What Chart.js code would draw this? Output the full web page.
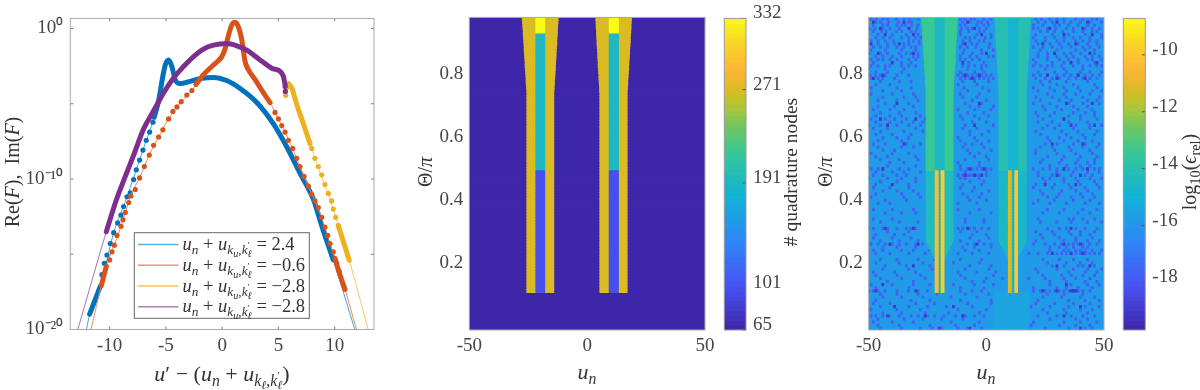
<!DOCTYPE html>
<html><head><meta charset="utf-8">
<script src="https://cdn.jsdelivr.net/npm/chart.js@4"></script>
<style>html,body{margin:0;padding:0;background:#fff;width:1200px;height:390px;overflow:hidden}canvas{position:absolute;left:0;top:0;filter:blur(0.4px)}</style>
</head><body>
<canvas id="c1" width="1200" height="390"></canvas>
<canvas id="c2" width="1200" height="390"></canvas>
<canvas id="c3" width="1200" height="390"></canvas>
<canvas id="c4" width="1200" height="390"></canvas>
<canvas id="c5" width="1200" height="390"></canvas>
<script>
// ---------- left panel: curve values (x, log10 y) ----------
const blueX=[-12.07,-11.78,-10.83,-9.64,-8.46,-7.87,-6.98,-6.04,-5.65,-5.3,-5.06,-4.76,-4.47,-4.17,-3.73,-2.84,-1.95,-0.77,0.41,1.6,3.08,4.56,5.74,6.92,8.11,8.85,9.88,11.8];
const blueE=[-20.02,-18.98,-17.12,-13.57,-11.2,-9.9,-7.95,-5.9,-4.81,-3.29,-2.42,-2.09,-2.53,-3.4,-3.66,-3.51,-3.33,-3.25,-3.46,-3.99,-4.92,-6.34,-7.86,-9.61,-11.35,-13.1,-15.38,-20.02];
const orangeX=[-11.66,-10.74,-10.3,-9.59,-8.99,-8.61,-8.02,-7.34,-6.48,-5.65,-4.76,-3.64,-2.69,-2.34,-1.66,-0.77,-0.03,0.27,0.56,0.86,1.15,1.45,1.75,2.04,2.34,2.93,3.67,4.26,5,5.59,6.33,6.92,7.66,8.25,9.14,9.59,10.03,10.47,10.92,11.95];
const orangeE=[-20.02,-17.08,-15.8,-14.4,-13.14,-12.22,-10.92,-9.93,-8.41,-7.21,-6.01,-4.86,-4.12,-3.73,-3.07,-2.42,-1.87,-1.33,-0.46,0.24,0.41,0.09,-0.78,-2.2,-2.75,-3.4,-4.27,-4.92,-6.01,-6.88,-8.1,-9.17,-10.48,-11.46,-13.2,-14.29,-15.27,-16.36,-17.34,-20.02];
const goldX=[5.89,6.18,6.63,7.22,7.81,8.4,8.99,9.59,10.33,10.92,11.3,12.99];
const goldE=[-3.66,-3.94,-5.03,-6.34,-7.65,-8.95,-10.15,-11.35,-13.1,-14.5,-15.4,-20.02];
const purpleX=[-12.84,-10.3,-9.44,-8.61,-7.87,-6.98,-6.09,-5.2,-4.32,-3.43,-2.54,-1.66,-0.77,0.41,1.3,2.19,3.37,4.41,5.15,5.44,5.59];
const purpleE=[-20.02,-13.5,-11.46,-9.83,-8.41,-6.67,-5.47,-4.27,-3.29,-2.53,-1.87,-1.37,-1.11,-1,-1.15,-1.44,-2.09,-2.64,-2.85,-3.18,-3.73];
// stretches where the markers overlap into a solid band: [from index, to index]
const blueSolid=[[1,2],[7,26]];
const orangeSolid=[[1,2],[13,27],[36,38]];
const goldSolid=[[0,4],[8,10]];
const purpleSolid=[[1,20]];
// individually visible markers
const blueBeadX=[-10.68,-10.47,-10.24,-9.94,-9.64,-9.29,-9,-8.76,-8.46,-8.17,-7.87,-7.63,-7.34,-7.04,-6.75,-6.45,-6.15];
const blueBeadE=[-16.36,-15.6,-15.05,-14.29,-13.57,-12.92,-12.4,-11.83,-11.18,-10.92,-10.04,-9.39,-8.74,-8.08,-7.43,-6.88,-6.23];
const orangeBeadX=[-10,-9.79,-9.59,-9.35,-8.99,-8.82,-8.61,-8.31,-8.11,-7.72,-7.34,-6.92,-6.48,-6.09,-5.65,-5.27,-4.76,-4.38,-4.02,-3.64,-3.14,-2.69,4.7,5,5.3,5.59,5.89,6.27,6.63,6.92,7.28,7.66,7.96,8.25,8.55,8.85,9.14,9.38,9.59,9.88,10.18,10.41];
const orangeBeadE=[-15.38,-14.84,-14.4,-13.75,-13.14,-12.7,-12.22,-11.57,-11.13,-10.7,-9.93,-9.17,-8.41,-7.76,-7.21,-6.73,-6.01,-5.51,-5.21,-4.86,-4.42,-4.12,-5.58,-6.01,-6.45,-6.88,-7.43,-7.97,-8.63,-9.17,-9.83,-10.48,-11.02,-11.46,-11.9,-12.55,-13.2,-13.75,-14.29,-14.84,-15.6,-16.14];
const goldBeadX=[5.65,5.75,7.96,8.25,8.55,8.85,9.14,9.44,9.73,9.88,10.09,10.33];
const goldBeadE=[-4.44,-3.9,-7.97,-8.63,-9.17,-9.72,-10.37,-10.96,-11.46,-12,-12.55,-13.1];
const purpleBeadX=[5.6,5.62];
const purpleBeadE=[-3.85,-4.18];
const legendValues=['2.4','\u22120.6','\u22122.8','\u22122.8'];
const lineTicksX=[-10,-5,0,5,10];
const lineTicksY=[1,1e-5,1e-10,1e-15,1e-20];
const lineTickLabels={'1':'10\u2070','1e-10':'10\u207B\u00B9\u2070','1e-20':'10\u207B\u00B2\u2070'};

// ---------- heat maps ----------
const thetaTicks=[0.2,0.4,0.6,0.8];
const unTicks=[-50,0,50];
const nodeTicks=[65,101,191,271,332];
const errTicks=[-18,-16,-14,-12,-10];
const nodeLevels={base:65,inner:101,mid:191,outer:271,top:332};
// column edges in u_n (two groups)
const edgesA={outer:[-25.67,-14.07],inner:[-21.85,-17.9]};
const edgesB={outer:[5.3,17.05],inner:[9.26,13.37]};
// row limits of the blocks
const rowBottom=12, rowInnerTop=50, rowMidTop=94, rowTaper=76;
// outer edges in the widening rows 76..99
const widenAL=[-25.7,-25.8,-25.9,-26.0,-26.0,-26.1,-26.2,-26.3,-26.4,-26.4,-26.5,-26.6,-26.7,-26.8,-26.8,-26.9,-27.0,-27.1,-27.2,-27.2,-27.3,-27.4,-27.5,-27.6];
const widenAR=[-14.0,-13.9,-13.8,-13.8,-13.7,-13.6,-13.5,-13.4,-13.4,-13.3,-13.2,-13.1,-13.1,-13.0,-12.9,-12.8,-12.8,-12.7,-12.6,-12.5,-12.5,-12.4,-12.3,-12.2];
const widenBL=[5.2,5.2,5.1,5.0,4.9,4.9,4.8,4.7,4.6,4.6,4.5,4.4,4.4,4.3,4.2,4.1,4.1,4.0,3.9,3.9,3.8,3.7,3.7,3.6];
const widenBR=[17.1,17.2,17.3,17.3,17.4,17.5,17.6,17.7,17.7,17.8,17.9,18.0,18.1,18.1,18.2,18.3,18.4,18.4,18.5,18.6,18.7,18.7,18.8,18.9];
// error map levels
const errBase=-15.8, errMidSpeck=-17.6, errDeepSpeck=-19.0;
const errBandUpperA=-13.4, errBandLowerA=-14.3, errBandUpperB=-14.1, errBandLowerB=-14.6;
const errCoreA=-14.5, errCoreB=-14.8, errFoot=-15.45;
const errStripesA=[-10.4,-9.8], errStripesB=[-11.2,-10.0];
const stripesA=[[-21.85,-20.4],[-19.3,-17.9]], stripesB=[[9.26,10.7],[12.0,13.37]];
const taperInset=[3.4,2.7,2.0,1.3,0.6]; // rows 23..27
const footRange=[3.2,18.2];
// specks: [row, u, u, ...]
const specksMid=[
[99,-49,-46.8,-44,-38.3,-32.6,-29,-9,-5,-1,2,21,27,33,41,47],
[98,-41.5,-37.5,-31.8,-10,-7,-2,22,28,36,44],
[97,-48,-44,-38,-34.6,-31.8,-11,-4,1,24,31,39,46],
[96,-49.6,-47.4,-44,-32.6,-8,-6,0,20,26,34,42,48],
[95,-44.6,-42.5,-38.3,-32,-11,-3,23,29,37,45],
[93,-47,-41,-36,-30,-9,-5,2,25,33,40,49],
[92,-49,-43,-33,-28.6,-7,-1,21,30,38,44],
[91,-46,-39,-35,-10,-4,27,35,43,47],
[90,-48,-42,-32,-30,-8,1,24,32,41],
[88,-50,-45,-37,-34,-29,-6,-2,22,29,36,46],
[87,-47,-40,-31,-11,-7,3,26,34,42,48],
[86,-49,-44,-38,-33,-9,-3,20,31,39,45],
[84,-46,-41,-36,-30,-10,-5,0,23,28,37,44,49],
[83,-50,-43,-35,-8,-2,25,33,41],
[81,-49.5,-47,-45,-43,-38,-33,-12,-10,-8,-6,-4,-2,0,2,20,23,26,30,33,36,39,42,45,48],
[80,-49,-46,-44,-39,-11,-9,-7,-5,-3,-1,1,3,21,25,28,31,35,38,41,44,47],
[78,-47,-41,-12,-4,24,30,37,46],
[76,-44,-36,-8,1,22,29,34,40,45,49],
[75,-49,-40,-31,-11,-3,26,33,38,44],
[73,-46,-38,-29,-6,0,23,31,36,43,47],
[72,-43,-33,-9,-2,20,27,35,41,48],
[70,-48,-41,-35,-12,-5,2,25,32,39,45],
[69,-45,-37,-30,-8,-1,21,29,37,42,46],
[67,-49,-43,-39,-34,-26,-10,-3,24,33,40,47],
[66,-47,-41,-36,-31,-27,-6,0,22,28,35,43],
[65,-50,-45,-38,-33,-28,-9,3,26,31,38,44,49],
[62,-47,-40,-32,-7,-2,23,34,41,46],
[60,-46,-36,-11,-4,1,27,33,39,45],
[59,-48,-43,-34,-28,-9,-6,-2,25,30,37,42,48],
[57,-44,-39,-8,2,21,29,36,44],
[55,-47,-42,-30,-5,0,26,33,40,47],
[53,-41,-35,-12,-3,23,31,38,43,46],
[51,-49,-46,-44,-37,-33,-11,-8,-6,-4,-2,0,2,20,24,27,30,33,35,38,41,43,46,48],
[49,-48,-44,-38,-34,-12,-10,-8,-7,-6,-5,-4,-3,-2,0,22,28,31,36,42,45],
[48,-50,-42,-36,-30,-11,-9,-3,24,27,33,38,44,49],
[46,-47,-40,-33,-10,-2,21,29,35,40,47],
[44,-44,-38,-31,-6,1,23,32,38,43],
[42,-49,-35,-28,-8,-3,26,30,36,41,46],
[40,-46,-41,-12,-4,20,27,34,42,48],
[37,-43,-36,-30,-7,2,24,31,39,44],
[35,-48,-40,-9,-1,22,35,37,41,46],
[32,-50,-48,-44,-42,-38,-34,-32,-30,-12,-10,-7,-5,-2,1,26,31,34,38,42,47],
[30,-47,-39,-35,-6,0,23,29,36,40,44],
[28,-45,-37,-29,-11,-3,21,33,38,43,48],
[27,-49,-46,-43,-40,-37,-34,-30,-27,-8,-5,-1,2,20,25,29,32,35,37,39,41,44,47],
[25,-48,-44,-36,-31,-24,-9,-3,27,33,35,38,40,42,45,49],
[24,-47,-41,-33,-26,-12,-6,1,18,22,26,30,32,34,36,38,40,42,44,46,48],
[22,-45,-38,-29,-22,-11,-2,24,31,37,43],
[20,-43,-34,-24,-7,2,28,33,39,41,46],
[18,-48,-39,-30,-12,-4,4,22,35,42,47],
[16,-45,-36,-26,-9,0,7,18,25,33,38,44],
[14,-49,-40,-31,-24,-14,-5,3,27,36,43,48],
[13,-47,-33,-11,-1,20,30,34,39,45],
[12,-50,-48,-46,-43,-38,-33,-29,-25,-11,-6,-2,20,23,25,27,29,31,33,35,37,39,41,44],
[10,-44,-36,-27,-15,-4,24,32,40,46],
[8,-48,-41,-30,-22,-8,2,21,29,37,44],
[7,-45,-33,-25,-17,-6,19,27,35,42,48],
[6,-49,-38,-28,-12,0,24,33,40,45],
[4,-49,-47,-44,-41,-37,-32,-29,-25,-22,-18,-13,-9,-5,-1,22,30,36,41,46],
[3,-46,-35,-27,-19,-10,5,27,38,43],
[2,-48,-40,-31,-15,-3,20,33,40,47],
[0,-45,-36,-28,-23,-19,-12,-8,-2,18,25,35,42,45],
// second pass over the upper half, clusters and short vertical runs
[99,-42,-35,-11,-6.5,23.5,30,38,45],[98,-47,-45,-33,-3.5,0.5,25,33,40,49],[97,-42,-36,-29,-9,-1,20,29,35,43],
[96,-41,-37,-29.5,-10.5,-3,22,29.5,37,45],[95,-48,-36,-30,-7.5,-1,26,32.5,41,47],[94,-46,-40,-34,-29,-11,-4,2,21,28,35,42,49],
[93,-44,-33,-27.8,-7,-0.5,20,29,37,44],[92,-46,-39.5,-31,-10,-3,25,33,41,47],[91,-42,-33,-28.5,-6,1.5,22,31,39],
[90,-45,-38,-35,-11,-4.5,20,28,36,44,48],[89,-49,-43,-36,-30,-9.5,-2,3,23,30,38,42,46],[88,-42,-32,-10,0,26,33,40],
[87,-44,-36,-29,-4,1,22,30,37,45],[86,-46,-41,-30,-11,-6,26,35,43,49],[85,-48,-36,-32,-7.5,-1,21,28,33,39,46],
[84,-49,-43,-33,-7.5,-2,20,26,32,41,47],[82,-47,-42,-36,-11,-5,-1,22,29,34,40,44,49],[79,-45,-37,-32,-10,-5,1,23,27,34,43],
[77,-49,-38,-32,-9.5,-1.5,20,27,33,39,47],[74,-44,-35,-30,-10,-4,21,28,34,41,48],[71,-46,-39,-31,-7,-3,3,24,30,37,43],
[68,-47,-41,-36,-28,-11,-5,1,22,27,35,40,46],[64,-48,-42,-30,-10,-4,24,29,37,44],[63,-45,-35,-27,-7,1,21,32,39,47],
[61,-44,-38,-33,-12,-5,26,31,36,42],[58,-46,-36,-31,-10,-1,23,28,35,41,47],[56,-49,-40,-33,-7,-3,21,30,38,45],
[54,-45,-37,-29,-9,1,24,32,39,46],[52,-42,-30,-11,-3,27,34,40,44],[50,-47,-40,-35,-28,-9,0,22,30,37,43,48],
[47,-45,-38,-30,-7,-1,25,33,39,46],[45,-48,-41,-33,-11,-5,20,28,36,42,48],[43,-47,-36,-29,-10,-2,24,31,40,45],
[41,-43,-34,-7,0,22,29,37,44],[38,-48,-40,-31,-12,-3,26,33,41,47],[34,-45,-37,-29,-9,-1,23,30,36,43,49],
[31,-42,-33,-11,-4,21,28,35,40,46],[29,-48,-40,-32,-7,1,24,31,38,45],[26,-44,-38,-30,-10,-5,2,27,31,34,37,41,43],
[21,-47,-37,-27,-14,-3,26,34,40,45],[19,-44,-33,-23,-9,1,21,30,37,43,49],[17,-47,-38,-28,-11,3,24,32,36,41,46],
[15,-42,-31,-19,-6,-1,27,34,42,47],[11,-45,-38,-29,-21,-9,1,26,33,41],[9,-47,-32,-24,-11,2,22,35,42,48],
[5,-44,-36,-26,-16,-3,26,34,43],[1,-46,-37,-24,-13,-5,19,31,38,44]
];
const specksDeep=[
[98,-48,-35,-8,30,43],[96,-45,-33,-5,27,41],[94,-43,-31,-2,33,45],[91,-49,-37,-9,24,38],
[88,-46,-31,0,29,44],[85,-40,-10,36,47],[81,-44,-9,-3,26,39],[80,-48,-6,30,42],
[72,-38,-3,34,45],[67,-45,-30,33],[65,-42,-5,36,46],[59,-35,28,41],[51,-44,-7,-1,33,43],
[49,-9,-5,-2,30,40],[46,-40,25,38],[32,-43,-31,-8,36],[27,-41,-29,-4,33,40],[24,28,36,41],
[20,-31,30,44],[14,-44,34],[12,-47,-30,24,30,36,37,38],[7,-39,-14,40],[4,-42,-26,-10,33],[0,-20,-7,40]
];

// ---------- colour map: parula anchors [position, r, g, b] ----------
const parula=[[0,62,38,168],[0.143,72,82,244],[0.286,46,135,247],[0.429,18,177,214],[0.571,55,200,151],[0.65,110,198,100],[0.714,171,199,57],[0.77,217,187,34],[0.835,253,182,56],[0.92,250,212,38],[1,249,251,21]];
function cmap(t){t=Math.max(0,Math.min(1,t));let i=0;while(i<parula.length-2&&t>parula[i+1][0])i++;
  const a=parula[i],b=parula[i+1],f=(t-a[0])/(b[0]-a[0]);
  return `rgb(${[1,2,3].map(j=>Math.round(a[j]+(b[j]-a[j])*f)).join(',')})`;}
const nodeMin=65,nodeMax=332,errMin=-19.67,errMax=-8.72;
const nodeColor=v=>cmap((v-nodeMin)/(nodeMax-nodeMin));
const errColor=v=>cmap((v-errMin)/(errMax-errMin));

const thetaMin=-0.014,thetaMax=0.979,rows=100;
const thetaOf=k=>thetaMin+(k+0.5)*(thetaMax-thetaMin)/rows;
const rowPx=3.6;
const ink='#454545',fontFam='"Liberation Serif",serif',tickSize=19;

function rowRange(a,b){const r=[];for(let k=a;k<=b;k++)r.push(k);return r;}
function outerL(k,e,w){return k>=rowTaper?w[k-rowTaper]:e;}
function barSet(cells,color,order,thick){return {type:'bar',data:cells,backgroundColor:color,borderWidth:0,grouped:false,barThickness:thick||rowPx,inflateAmount:0.2,order:order};}

// ---------- math text ----------
const SZ={0:1,1:0.72,2:0.55,3:0.72,4:0.5};
const DY={0:0,1:0.22,2:0.38,3:-0.36,4:-0.08};
function runsWidth(ctx,runs,size){let w=0;runs.forEach(r=>{ctx.font=`${r[1]==='i'?'italic ':''}${size*SZ[r[2]||0]}px ${fontFam}`;if(!r[3])w+=ctx.measureText(r[0]).width;});return w;}
function drawRuns(ctx,runs,size,x,y,rot,align){ctx.save();ctx.translate(x,y);if(rot)ctx.rotate(-Math.PI/2);
  let cx=align==='left'?0:-runsWidth(ctx,runs,size)/2;ctx.fillStyle='#333';ctx.textBaseline='alphabetic';ctx.textAlign='left';
  runs.forEach(r=>{const l=r[2]||0;ctx.font=`${r[1]==='i'?'italic ':''}${size*SZ[l]}px ${fontFam}`;ctx.fillText(r[0],cx,DY[l]*size);if(!r[3])cx+=ctx.measureText(r[0]).width;});ctx.restore();}
const titleU=[['u','i'],['\u2032','r'],[' \u2212 (','r'],['u','i'],['n','i',1],[' + ','r'],['u','i'],['k','i',1],['\u2113','i',2],[',','r',1],['k','i',1],['\u2032','r',4,1],['\u2113','i',2],[')','r']];
const titleF=[['Re(','r'],['F','i'],['),  Im(','r'],['F','i'],[')','r']];
const titleUn=[['u','i'],['n','i',1]];
const titleTheta=[['\u0398','r'],['/','r'],['\u03C0','i']];
const titleNodes=[['# quadrature nodes','r']];
const titleErr=[['log','r'],['10','r',1],['(','r'],['\u03F5','i'],['rel','r',1],[')','r']];
const legendRuns=v=>[['u','i'],['n','i',1],[' + ','r'],['u','i'],['k','i',1],['u','i',2],[',','r',1],['k','i',1],['\u2032','r',4,1],['\u2113','i',2],[' = ','r'],[v,'r']];

// ---------- shared chart parts ----------
function axesBox(L,T,R,B,yw,xh){return {padding:{left:L-yw,top:T,right:1200-R,bottom:390-B-xh}};}
function setTicks(list){return s=>{s.ticks=list.map(v=>({value:v}));};}
function frameAndText(cfg){return {id:'frameAndText',afterDraw(ch){const a=ch.chartArea,c=ch.ctx;c.save();
    c.strokeStyle=cfg.tickColor||'#777';c.lineWidth=1;
    if(cfg.ticksAll){const len=3;c.beginPath();
      ch.scales.x.ticks.forEach(t=>{const p=ch.scales.x.getPixelForValue(t.value);c.moveTo(p,a.bottom);c.lineTo(p,a.bottom-len);c.moveTo(p,a.top);c.lineTo(p,a.top+len);});
      ch.scales.y.ticks.forEach(t=>{const p=ch.scales.y.getPixelForValue(t.value);c.moveTo(a.left,p);c.lineTo(a.left+len,p);c.moveTo(a.right,p);c.lineTo(a.right-len,p);});c.stroke();}
    if(cfg.ticksRight){c.strokeStyle='#555';c.beginPath();ch.scales.y.ticks.forEach(t=>{const p=ch.scales.y.getPixelForValue(t.value);c.moveTo(a.right,p);c.lineTo(a.right-3.5,p);});c.stroke();}
    c.strokeStyle=cfg.frame||'#aaa';c.strokeRect(a.left,a.top,a.right-a.left,a.bottom-a.top);c.restore();
    (cfg.text||[]).forEach(t=>drawRuns(ch.ctx,t.runs,t.size||19,t.x,t.y,t.rot));
    if(cfg.legend)cfg.legend(ch.ctx);
  }};}
const tickFont={family:fontFam,size:tickSize};
function baseOptions(layout){return {responsive:false,animation:false,events:[],layout,plugins:{legend:{display:false},tooltip:{enabled:false},title:{display:false}}};}

// ---------- left panel ----------
const blue='#0072BD',orange='#D95319',gold='#EDB120',purple='#7E2F8E';
const pts=(xs,es)=>xs.map((x,i)=>({x,y:Math.pow(10,es[i])}));
function curve(color,thin,xs,es,solids,bx,be,order){const all=pts(xs,es);const out=[
   {type:'line',data:all,borderColor:thin,borderWidth:1,pointRadius:0,cubicInterpolationMode:'monotone',order:order+0.5}];
   solids.forEach(s=>out.push({type:'line',data:all.slice(s[0],s[1]+1),borderColor:color,borderWidth:5,borderCapStyle:'round',borderJoinStyle:'round',pointRadius:0,cubicInterpolationMode:'monotone',order:order}));
   out.push({type:'line',showLine:false,data:pts(bx,be),pointRadius:2.6,pointBackgroundColor:color,pointBorderWidth:0,order:order});return out;}
const legendColors=['#63ADDC','#EF9272','#F5D382','#AD82BA'];
function drawLegend(c){c.save();c.fillStyle='#fff';c.fillRect(134.3,232.7,175,85.6);c.strokeStyle='#666';c.lineWidth=1;c.strokeRect(134.3,232.7,175,85.6);
  legendValues.forEach((v,i)=>{const y=244.4+i*20.8;c.strokeStyle=legendColors[i];c.lineWidth=i===2?2:1.5;c.beginPath();c.moveTo(138,y);c.lineTo(178.5,y);c.stroke();drawRuns(c,legendRuns(v),18.5,182.5,y+5.5,false,'left');});c.restore();}
new Chart('c1',{type:'line',data:{datasets:[
  ...curve(blue,'#4C9FD6',blueX,blueE,blueSolid,blueBeadX,blueBeadE,4),
  ...curve(orange,'#E88A64',orangeX,orangeE,orangeSolid,orangeBeadX,orangeBeadE,3),
  ...curve(gold,'#F2C860',goldX,goldE,goldSolid,goldBeadX,goldBeadE,2),
  ...curve(purple,'#A574B2',purpleX,purpleE,purpleSolid,purpleBeadX,purpleBeadE,1)
 ]},
 options:{...baseOptions(axesBox(70.3,12.7,374,329.5,62,26)),
  scales:{x:{type:'linear',min:-13.5,max:13.5,afterBuildTicks:setTicks(lineTicksX),afterFit:s=>{s.height=26;},grid:{display:false,drawTicks:false},border:{display:false},
     ticks:{font:tickFont,color:ink,padding:5,autoSkip:false,maxRotation:0,minRotation:0,callback:v=>String(v)}},
   y:{type:'logarithmic',min:1e-20,max:Math.pow(10,0.67),afterBuildTicks:setTicks(lineTicksY),afterFit:s=>{s.width=62;},grid:{display:false,drawTicks:false},border:{display:false},
     ticks:{font:tickFont,color:ink,padding:7,autoSkip:false,callback:v=>lineTickLabels[String(v)]||''}}}},
 plugins:[frameAndText({ticksAll:true,text:[{runs:titleU,x:222,y:381,size:22},{runs:titleF,x:19,y:172,rot:true,size:20}],legend:drawLegend})]});

// ---------- middle panel ----------
function heatAxes(){return {x:{type:'linear',min:-50,max:50,afterBuildTicks:setTicks(unTicks),afterFit:s=>{s.height=26;},grid:{display:false,drawTicks:false},border:{display:false},
     ticks:{font:tickFont,color:ink,padding:5,autoSkip:false,maxRotation:0,minRotation:0,callback:v=>String(v)}},
   y:{type:'linear',min:thetaMin,max:thetaMax,offset:false,afterBuildTicks:setTicks(thetaTicks),afterFit:s=>{s.width=50;},grid:{display:false,drawTicks:false,offset:false},border:{display:false},
     ticks:{font:tickFont,color:ink,padding:6,autoSkip:false,callback:v=>Number(v).toFixed(1)}}};}
const cell=(k,a,b)=>({y:thetaOf(k),x:[a,b]});
const nodeSets=[
  barSet(rowRange(0,rows-1).map(k=>cell(k,-50,50)),nodeColor(nodeLevels.base),9,5),
  barSet(rowRange(rowBottom,rows-1).map(k=>cell(k,outerL(k,edgesA.outer[0],widenAL),outerL(k,edgesA.outer[1],widenAR))),nodeColor(nodeLevels.outer),8),
  barSet(rowRange(rowBottom,rows-1).map(k=>cell(k,outerL(k,edgesB.outer[0],widenBL),outerL(k,edgesB.outer[1],widenBR))),nodeColor(nodeLevels.outer),8)
];
[edgesA.inner,edgesB.inner].forEach(e=>{
  nodeSets.push(barSet(rowRange(rowBottom,rowInnerTop).map(k=>cell(k,e[0],e[1])),nodeColor(nodeLevels.inner),7));
  nodeSets.push(barSet(rowRange(rowInnerTop+1,rowMidTop).map(k=>cell(k,e[0],e[1])),nodeColor(nodeLevels.mid),7));
  nodeSets.push(barSet(rowRange(rowMidTop+1,rows-1).map(k=>cell(k,e[0],e[1])),nodeColor(nodeLevels.top),6));
});
new Chart('c2',{type:'bar',data:{datasets:nodeSets},options:{indexAxis:'y',...baseOptions(axesBox(469.3,13,705,330,50,26)),scales:heatAxes()},
 plugins:[frameAndText({text:[{runs:titleUn,x:587,y:379,size:22},{runs:titleTheta,x:432,y:172,rot:true,size:20}]})]});

// ---------- right panel ----------
const speckCells=list=>list.flatMap(r=>r.slice(1).map(u=>cell(r[0],u-0.6,u+0.6)));
function band(from,to,fa,fb){return rowRange(from,to).map(k=>cell(k,fa(k),fb(k)));}
const taper=k=>(k>=23&&k<=27)?taperInset[k-23]:0;
const errSets=[
  barSet(rowRange(0,rows-1).map(k=>cell(k,-50,50)),errColor(errBase),9,5),
  Object.assign(barSet(speckCells(specksMid),errColor(errMidSpeck),8,3.3),{inflateAmount:0}),
  Object.assign(barSet(speckCells(specksDeep),errColor(errDeepSpeck),7.8,3.3),{inflateAmount:0}),
  barSet(band(0,rowBottom-1,()=>footRange[0],()=>footRange[1]),errColor(errFoot),7.5),
  // group A outer bands
  barSet(band(51,rows-1,k=>outerL(k,edgesA.outer[0],widenAL),()=>edgesA.inner[0]),errColor(errBandUpperA),7),
  barSet(band(51,rows-1,()=>edgesA.inner[1],k=>outerL(k,edgesA.outer[1],widenAR)),errColor(errBandUpperA),7),
  barSet(band(23,50,k=>edgesA.outer[0]+taper(k),()=>edgesA.inner[0]),errColor(errBandLowerA),7),
  barSet(band(23,50,()=>edgesA.inner[1],k=>edgesA.outer[1]-taper(k)),errColor(errBandLowerA),7),
  // group B outer bands
  barSet(band(51,rows-1,k=>outerL(k,edgesB.outer[0],widenBL),()=>edgesB.inner[0]),errColor(errBandUpperB),7),
  barSet(band(51,rows-1,()=>edgesB.inner[1],k=>outerL(k,edgesB.outer[1],widenBR)),errColor(errBandUpperB),7),
  barSet(band(23,50,k=>edgesB.outer[0]+taper(k),()=>edgesB.inner[0]),errColor(errBandLowerB),7),
  barSet(band(23,50,()=>edgesB.inner[1],k=>edgesB.outer[1]-taper(k)),errColor(errBandLowerB),7),
  // cores
  barSet(band(rowBottom,rows-1,()=>edgesA.inner[0],()=>edgesA.inner[1]),errColor(errCoreA),6),
  barSet(band(rowBottom,rows-1,()=>edgesB.inner[0],()=>edgesB.inner[1]),errColor(errCoreB),6),
  // stripes
  barSet(band(rowBottom,rowInnerTop,()=>stripesA[0][0],()=>stripesA[0][1]),errColor(errStripesA[0]),5),
  barSet(band(rowBottom,rowInnerTop,()=>stripesA[1][0],()=>stripesA[1][1]),errColor(errStripesA[1]),5),
  barSet(band(rowBottom,rowInnerTop,()=>stripesB[0][0],()=>stripesB[0][1]),errColor(errStripesB[0]),5),
  barSet(band(rowBottom,rowInnerTop,()=>stripesB[1][0],()=>stripesB[1][1]),errColor(errStripesB[1]),5)
];
new Chart('c3',{type:'bar',data:{datasets:errSets},options:{indexAxis:'y',...baseOptions(axesBox(868.7,13,1104,330,50,26)),scales:heatAxes()},
 plugins:[frameAndText({text:[{runs:titleUn,x:986,y:379,size:22},{runs:titleTheta,x:832,y:172,rot:true,size:20}]})]});

// ---------- colour bars ----------
function colorBar(id,L,R,vmin,vmax,ticks,title){const levels=rowRange(0,63);const step=(vmax-vmin)/64;
  new Chart(id,{type:'bar',data:{datasets:[{data:levels.map(i=>({y:vmin+(i+0.5)*step,x:[0,1]})),backgroundColor:levels.map(i=>cmap((i+0.5)/64)),borderWidth:0,grouped:false,barThickness:5.4,inflateAmount:0.2}]},
   options:{indexAxis:'y',...baseOptions({padding:{left:L,top:13,right:1200-R-46,bottom:60}}),
    scales:{x:{type:'linear',min:0,max:1,display:false},
     y:{type:'linear',position:'right',min:vmin,max:vmax,offset:false,afterBuildTicks:setTicks(ticks),afterFit:s=>{s.width=46;},grid:{display:false,drawTicks:false,offset:false},border:{display:false},
      ticks:{font:tickFont,color:ink,padding:7,labelOffset:-5,autoSkip:false,callback:v=>String(v)}}}},
   plugins:[frameAndText({ticksRight:true,frame:'#999',text:[title]})]});}
colorBar('c4',724.3,746,nodeMin,nodeMax,nodeTicks,{runs:titleNodes,x:797,y:172,rot:true,size:19.5});
colorBar('c5',1123.3,1145.3,errMin,errMax,errTicks,{runs:titleErr,x:1196,y:172,rot:true,size:20});
</script>
</body></html>
